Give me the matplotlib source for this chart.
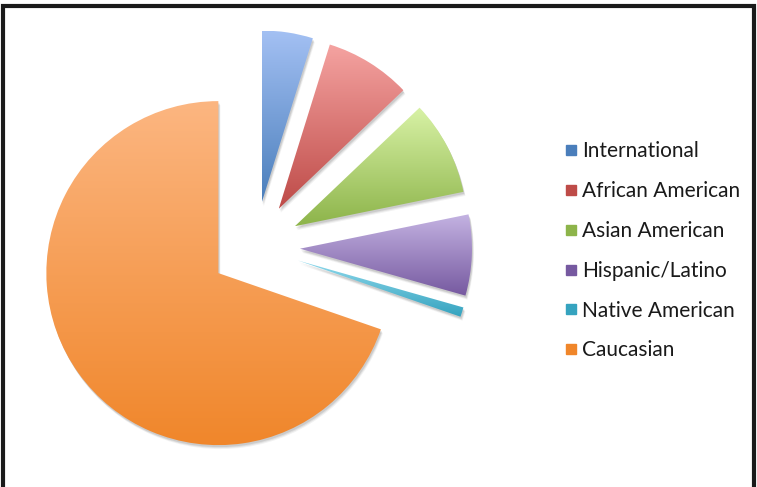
import matplotlib.pyplot as plt
import numpy as np
from matplotlib.lines import Line2D
from matplotlib.patches import Rectangle, Wedge
from matplotlib.colors import LinearSegmentedColormap

plt.rcParams['font.family'] = ['Lato', 'DejaVu Sans']

groups = ["International", "African American", "Asian American",
          "Hispanic/Latino", "Native American", "Caucasian"]
shares = [4.8, 8.1, 8.9, 7.6, 0.9, 69.7]

base_colors = ["#4a7ebb", "#be4b48", "#8db44a", "#7659a0", "#35a3bf", "#f0862a"]
top_colors = ["#a3c0f3", "#f5a3a1", "#d8f2a6", "#c4b3e2", "#8fd9ec", "#fcb681"]

fig = plt.figure(figsize=(7.57, 4.87), dpi=100)
ax = fig.add_axes([0, 0, 1, 1])

wedges, _ = ax.pie(shares, center=(255, 240), radius=172,
                   explode=[45] * len(shares), startangle=90,
                   counterclock=False, frame=True,
                   wedgeprops=dict(linewidth=0))
ax.set_aspect("equal")
ax.axis("off")

for w, c0, c1 in zip(wedges, top_colors, base_colors):
    # soft shadow, down and to the right
    for dx, dy, a in [(2, -4, 0.05), (1.5, -3, 0.07), (1, -2, 0.09)]:
        sh = Wedge((w.center[0] + dx, w.center[1] + dy), w.r, w.theta1, w.theta2,
                   facecolor="black", alpha=a, edgecolor="none", zorder=1)
        ax.add_patch(sh)
    verts = w.get_patch_transform().transform(w.get_path().vertices)
    x0, y0 = verts.min(axis=0)
    x1, y1 = verts.max(axis=0)
    cmap = LinearSegmentedColormap.from_list("g", [c1, c0])
    grad = np.linspace(0, 1, 256).reshape(-1, 1)
    im = ax.imshow(grad, cmap=cmap, extent=(x0, x1, y0, y1), origin="lower",
                   aspect="auto", zorder=2)
    im.set_clip_path(w)
    w.set_facecolor("none")
    w.set_zorder(3)

ax.set_xlim(0, 757)
ax.set_ylim(0, 487)

handles = [Line2D([], [], marker="s", linestyle="none", markersize=7.5,
                  markerfacecolor=c, markeredgecolor=c) for c in base_colors]
fig.legend(handles, groups, loc="upper left", bbox_to_anchor=(554 / 757, 1 - 131 / 487),
           frameon=False, fontsize=15, handlelength=0.6, handletextpad=0.25,
           labelspacing=0.95, borderpad=0, labelcolor="#1a1a1a")

# outer frame
fig.patches.append(Rectangle((2.5 / 757, -0.1), 751 / 757, 1.1 - 5.5 / 487,
                             transform=fig.transFigure, fill=False,
                             edgecolor="#1a1a1a", linewidth=3))

plt.savefig("out.png", dpi=100)
